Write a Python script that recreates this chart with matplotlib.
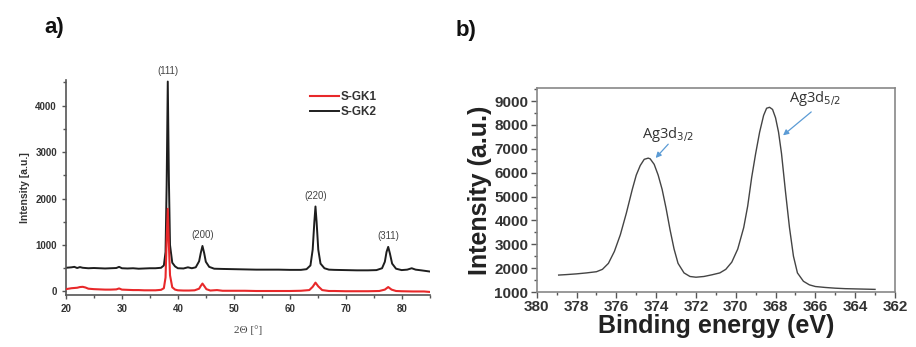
import numpy as np
import matplotlib
matplotlib.use("Agg")
from matplotlib import pyplot as plt
from matplotlib.ticker import MultipleLocator

plt.rcParams['font.family'] = ['Liberation Sans', 'DejaVu Sans']

# ---- a) XRD patterns (2theta, intensity)
gk2_x = [20, 21, 21.5, 22, 22.5, 23, 24, 25, 26, 27, 28, 29, 29.5, 30, 31, 32, 33, 34, 35, 36, 37,
         37.5, 37.8, 38.0, 38.2, 38.4, 38.6, 39.0, 39.5, 40, 41, 41.8, 42.5, 43.2, 43.8, 44.1, 44.4,
         44.7, 45.0, 45.6, 46.5, 48, 50, 52, 54, 56, 58, 60, 62, 63, 63.7, 64.1, 64.4, 64.6, 64.8,
         65.1, 65.5, 66.2, 67, 68, 70, 72, 74, 75.5, 76.5, 77.0, 77.3, 77.6, 77.9, 78.3, 79, 80,
         81, 81.8, 82.5, 83.5, 85]
gk2_y = [510, 520, 530, 505, 525, 510, 500, 505, 500, 495, 500, 505, 530, 500, 495, 500, 490, 495,
         500, 500, 510, 560, 850, 2300, 4520, 2400, 1000, 620, 540, 500, 495, 520, 500, 520, 650,
         830, 980, 830, 640, 530, 490, 485, 480, 475, 470, 470, 470, 465, 465, 480, 560, 900, 1500,
         1830, 1500, 900, 600, 500, 470, 465, 460, 455, 455, 460, 500, 640, 850, 960, 820, 600,
         490, 460, 470, 500, 470, 455, 430]

gk1_x = [20, 21, 22, 22.5, 23, 23.5, 24, 25, 26, 27, 28, 29, 29.5, 30, 31, 32, 33, 34, 35, 36, 37,
         37.5, 37.8, 38.0, 38.2, 38.4, 38.6, 39.0, 39.5, 40, 41, 42, 43, 43.8, 44.1, 44.4, 44.7,
         45.1, 45.8, 47, 48, 50, 52, 54, 56, 58, 60, 62, 63.5, 64.1, 64.6, 65.1, 65.8, 67, 68, 70,
         72, 74, 76, 77.0, 77.6, 78.2, 79, 80, 82, 84, 85]
gk1_y = [50, 70, 80, 95, 100, 85, 60, 50, 45, 40, 40, 45, 65, 40, 35, 30, 30, 25, 25, 25, 35,
         70, 300, 1100, 1780, 1000, 350, 90, 40, 25, 20, 20, 25, 60, 120, 170, 120, 50, 20, 30, 15,
         15, 15, 10, 10, 10, 10, 15, 30, 100, 190, 110, 30, 10, 10, 5, 5, 5, 10, 40, 95, 40, 10,
         5, 0, 0, -10]

xrd_peaks = ['(111)', '(200)', '(220)', '(311)']
xrd_peak_x = [38.2, 44.4, 64.6, 77.6]
xrd_peak_y = [4520, 980, 1830, 960]

# ---- b) XPS Ag 3d spectrum (binding energy, intensity)
xps_x = [378.9, 378.5, 378, 377.5, 377, 376.7, 376.4, 376.1, 375.8, 375.5, 375.2, 375.0, 374.8,
         374.6, 374.4, 374.3, 374.1, 373.9, 373.7, 373.5, 373.3, 373.1, 372.9, 372.6, 372.3, 372,
         371.6, 371.2, 370.8, 370.5, 370.2, 369.9, 369.6, 369.4, 369.2, 369.0, 368.8, 368.6,
         368.45, 368.3, 368.15, 368.0, 367.85, 367.7, 367.5, 367.3, 367.1, 366.9, 366.6, 366.3,
         366, 365.5, 365, 364.5, 364, 363.5, 363]
xps_y = [1710, 1730, 1760, 1800, 1850, 1950, 2200, 2700, 3400, 4300, 5300, 5900, 6300, 6560, 6610,
         6580, 6350, 5900, 5300, 4500, 3600, 2800, 2200, 1800, 1650, 1620, 1650, 1720, 1800, 1950,
         2250, 2800, 3700, 4600, 5800, 6800, 7700, 8400, 8700, 8740, 8650, 8300, 7700, 6800, 5200,
         3700, 2500, 1800, 1450, 1300, 1230, 1190, 1160, 1140, 1130, 1120, 1110]

xps_labels = ['Ag3d$_{3/2}$', 'Ag3d$_{5/2}$']
xps_arrow_head = [(374.12, 6530), (367.73, 7490)]
xps_arrow_tail = [(373.3, 7280), (366.1, 8620)]
xps_text_pos = [(374.7, 7200), (367.3, 8700)]

fig = plt.figure(figsize=(9.16, 3.47), dpi=100)

# ---------- panel a
ax1 = fig.add_axes([0.072, 0.150, 0.397, 0.619])
ax1.plot(gk1_x, gk1_y, color='#e8282a', lw=1.5, label='S-GK1', zorder=3)
ax1.plot(gk2_x, gk2_y, color='#1e1e1e', lw=1.4, label='S-GK2', zorder=2)
for lab, px, py in zip(xrd_peaks, xrd_peak_x, xrd_peak_y):
    ax1.text(px, py + 120, lab, ha='center', va='bottom', fontsize=7, color='#444444')
ax1.set_xlim(20, 85)
ax1.set_ylim(-75, 4550)
ax1.xaxis.set_major_locator(MultipleLocator(10))
ax1.xaxis.set_minor_locator(MultipleLocator(5))
ax1.yaxis.set_major_locator(MultipleLocator(1000))
ax1.yaxis.set_minor_locator(MultipleLocator(500))
for s in ['top', 'right']:
    ax1.spines[s].set_visible(False)
for s in ['left', 'bottom']:
    ax1.spines[s].set_color('#555555')
    ax1.spines[s].set_linewidth(1.2)
ax1.tick_params(which='both', direction='out', colors='#555555', labelcolor='#333333',
                labelsize=7, width=1)
ax1.tick_params(which='major', length=3)
ax1.tick_params(which='minor', length=2)
for t in ax1.get_xticklabels() + ax1.get_yticklabels():
    t.set_fontweight('bold')
ax1.set_ylabel('Intensity [a.u.]', fontsize=7.5, fontweight='bold', color='#333333', labelpad=4)
ax1.set_xlabel('2Θ [°]', fontsize=8, family=['Liberation Serif', 'DejaVu Serif'],
               color='#444444', labelpad=8)
leg = ax1.legend(loc='upper right', bbox_to_anchor=(0.885, 1.0), frameon=False, fontsize=8.5,
                 handlelength=2.4, handletextpad=0.2, labelspacing=0.3)
for t in leg.get_texts():
    t.set_fontweight('bold')
    t.set_color('#333333')
fig.text(0.048, 0.905, 'a)', fontsize=16, fontweight='bold', color='#111111')

# ---------- panel b
ax2 = fig.add_axes([0.586, 0.1585, 0.391, 0.588])
ax2.plot(xps_x, xps_y, color='#444444', lw=1.0)
ax2.set_xlim(380, 362)
ax2.set_ylim(1000, 9550)
ax2.xaxis.set_major_locator(MultipleLocator(2))
ax2.xaxis.set_minor_locator(MultipleLocator(1))
ax2.yaxis.set_major_locator(MultipleLocator(1000))
ax2.yaxis.set_minor_locator(MultipleLocator(500))
for s in ax2.spines.values():
    s.set_color('#888888')
    s.set_linewidth(1.2)
ax2.tick_params(which='both', direction='out', colors='#555555', labelcolor='#333333',
                labelsize=11, width=1, pad=2)
ax2.tick_params(which='major', length=4)
ax2.tick_params(which='minor', length=2)
for t in ax2.get_xticklabels() + ax2.get_yticklabels():
    t.set_fontweight('bold')
ax2.set_ylabel('Intensity (a.u.)', fontsize=18, fontweight='bold', color='#222222', labelpad=2)
ax2.set_xlabel('Binding energy (eV)', fontsize=18, fontweight='bold', color='#222222', labelpad=0)
for lab, head, tail, tp in zip(xps_labels, xps_arrow_head, xps_arrow_tail, xps_text_pos):
    ax2.annotate('', xy=head, xytext=tail,
                 arrowprops=dict(arrowstyle='-|>', color='#5b9bd5', lw=0.9, mutation_scale=8))
    ax2.text(tp[0], tp[1], lab, fontsize=10.5, color='#333333', family=['Open Sans', 'DejaVu Sans'],
             ha='left', va='bottom')
fig.text(0.497, 0.895, 'b)', fontsize=16, fontweight='bold', color='#111111')

fig.savefig('out.png', dpi=100)
